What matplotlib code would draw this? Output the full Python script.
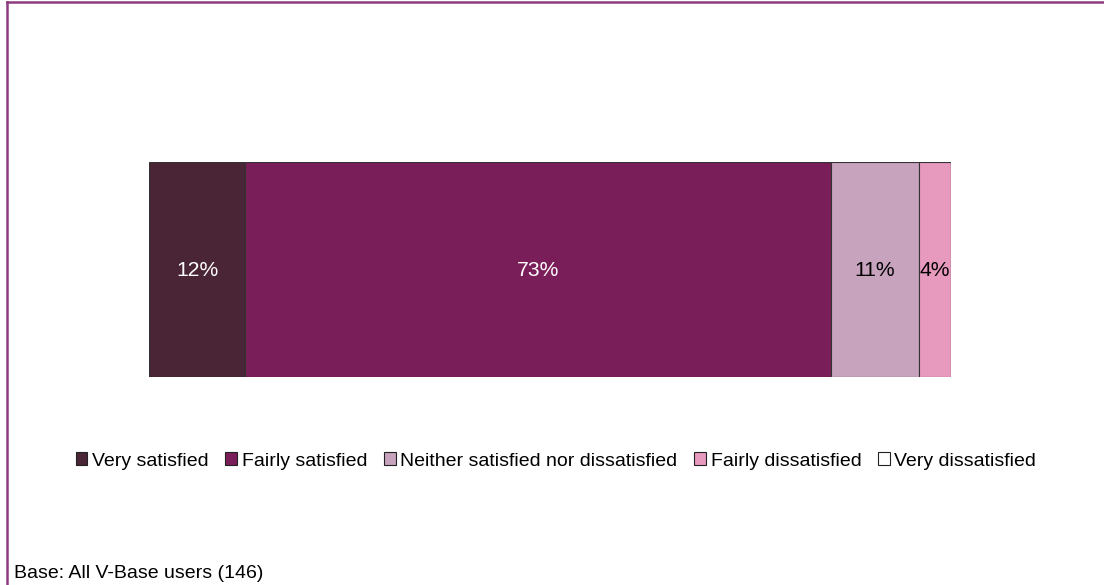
import matplotlib
matplotlib.use("Agg")
import matplotlib.pyplot as plt
from matplotlib.lines import Line2D
from matplotlib.patches import Patch

plt.rcParams['font.family'] = ['Liberation Sans', 'DejaVu Sans']

categories = ["Very satisfied", "Fairly satisfied", "Neither satisfied nor dissatisfied",
              "Fairly dissatisfied", "Very dissatisfied"]
values = [12, 73, 11, 4, 0]
colors = ["#4A2535", "#7A1E5A", "#C8A3BE", "#E899BE", "#FFFFFF"]
label_colors = ["white", "white", "black", "black", "black"]
base_note = "Base: All V-Base users (146)"

W, H = 1104, 585
fig = plt.figure(figsize=(W / 100, H / 100), dpi=100)

# axes spanning the bar region
ax = fig.add_axes([149 / W, 1 - 377 / H, (951 - 149) / W, (377 - 162) / H])
left = 0
for cat, v, c, lc in zip(categories, values, colors, label_colors):
    ax.barh(0, v, left=left, height=1.0, color=c, edgecolor="#333333", linewidth=0.8)
    if v > 0:
        ax.text(left + v / 2, -0.005, f"{v}%", ha="center", va="center", color=lc, fontsize=15.2)
    left += v
ax.set_xlim(0, 100)
ax.set_ylim(-0.5, 0.5)
ax.axis("off")

# legend
handles = [Patch(facecolor=c, edgecolor="#222222", linewidth=0.8) for c in colors]
fig.legend(handles, categories, loc="center", bbox_to_anchor=(556 / W, 1 - 461 / H),
           ncol=5, frameon=False, fontsize=14, handlelength=0.6, handleheight=0.6,
           handletextpad=0.25, columnspacing=0.85)

# base note
fig.text(14 / W, 1 - 574 / H, base_note, ha="left", va="center", fontsize=14)

# outer frame (left and top edges)
frame_color = "#8E3A80"
fig.add_artist(Line2D([7 / W, 7 / W], [0, 1 - 2 / H], color=frame_color, linewidth=1.8))
fig.add_artist(Line2D([7 / W, 1], [1 - 2 / H, 1 - 2 / H], color=frame_color, linewidth=1.8))

fig.savefig("out.png", dpi=100)
